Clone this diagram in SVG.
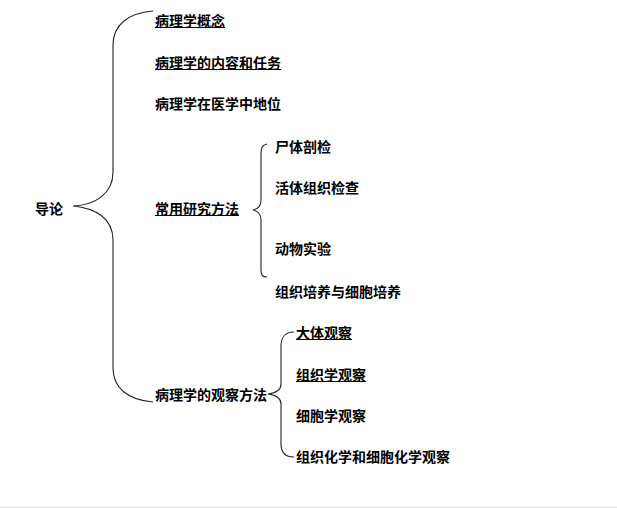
<svg xmlns="http://www.w3.org/2000/svg" width="617" height="508" viewBox="0 0 617 508">
<style>
text{font-family:"Noto Sans CJK SC","Noto Sans CJK TC",sans-serif;font-size:14px;font-weight:bold;fill:#000;dominant-baseline:central}
.br{fill:none;stroke:#222;stroke-width:1.1}
.ul{stroke:#000;stroke-width:1}
</style>
<rect x="0" y="0" width="617" height="508" fill="#fff"/>
<rect x="0" y="506" width="617" height="2" fill="#ebebeb"/>
<g id="connectors">
<path class="br" d="M153,11 C128,13 113,25 113,45 L113,172 C113,194 95,205 73,206 C95,208 113,218 113,240 L113,368 C113,388 128,400 153,402"/>
<path class="br" d="M267,144 C262,145 261,148 261,155 L261,200 C261,206 258,209 253,210 C258,211 261,214 261,220 L261,270 C261,275 262,277 267,277"/>
<path class="br" d="M294,332 C285,332 281,338 281,346 L281,384 C281,390 276,393 268,394 C276,395 281,398 281,404 L281,444 C281,452 285,457 294,457"/>
</g>
<g id="root"><text x="35" y="208">导论</text></g>
<g id="n1"><text x="155" y="20">病理学概念</text><line class="ul" x1="155" y1="27.5" x2="225" y2="27.5"/></g>
<g id="n2"><text x="155" y="62">病理学的内容和任务</text><line class="ul" x1="155" y1="69.5" x2="281" y2="69.5"/></g>
<g id="n3"><text x="155" y="103">病理学在医学中地位</text></g>
<g id="n4"><text x="155" y="208">常用研究方法</text><line class="ul" x1="155" y1="215.5" x2="239" y2="215.5"/></g>
<g id="n4a"><text x="275" y="146">尸体剖检</text></g>
<g id="n4b"><text x="275" y="187">活体组织检查</text></g>
<g id="n4c"><text x="275" y="248">动物实验</text></g>
<g id="n4d"><text x="275" y="291">组织培养与细胞培养</text></g>
<g id="n5"><text x="155" y="394">病理学的观察方法</text></g>
<g id="n5a"><text x="296" y="332">大体观察</text><line class="ul" x1="296" y1="339.5" x2="352" y2="339.5"/></g>
<g id="n5b"><text x="296" y="374">组织学观察</text><line class="ul" x1="296" y1="381.5" x2="366" y2="381.5"/></g>
<g id="n5c"><text x="296" y="415">细胞学观察</text></g>
<g id="n5d"><text x="296" y="456">组织化学和细胞化学观察</text></g>
</svg>
